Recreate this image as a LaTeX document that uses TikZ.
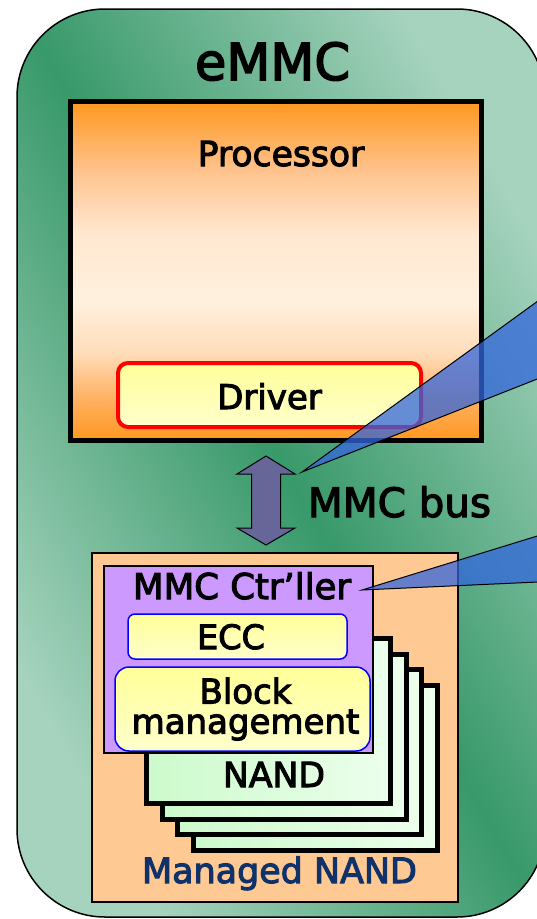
\documentclass[tikz,border=0pt]{standalone}
\usepackage{fontspec}
\setmainfont{DejaVu Sans}[FakeBold=3]
\definecolor{greendark}{HTML}{38996A}
\definecolor{greenlight}{HTML}{A6D3BE}
\definecolor{procorange}{HTML}{FF981F}
\definecolor{procpeach}{HTML}{FFC490}
\definecolor{proclight}{HTML}{FFE8D0}
\definecolor{proccream}{HTML}{FFF0DE}
\definecolor{procpeach2}{HTML}{FFDDBA}
\definecolor{procorange2}{HTML}{FFB060}
\definecolor{yeltop}{HTML}{FFFF99}
\definecolor{yelbot}{HTML}{FFFFCC}
\definecolor{peach}{HTML}{FFC994}
\definecolor{ctlpurple}{HTML}{CC99FF}
\definecolor{nandgreen}{HTML}{CCFACC}
\definecolor{nandlight}{HTML}{ECFFEC}
\definecolor{mnandtext}{HTML}{10326A}
\definecolor{arrowfill}{HTML}{666699}
\definecolor{wedgeblue}{HTML}{3366DD}
\pgfdeclareverticalshading{procshade}{100bp}{%
  color(0bp)=(procorange); color(25bp)=(procorange); color(31bp)=(procorange2);
  color(38bp)=(procpeach2); color(45.5bp)=(proccream); color(55.5bp)=(proclight);
  color(64.5bp)=(procpeach); color(75bp)=(procorange); color(100bp)=(procorange)}
\newcommand\myfs[1]{\fontsize{#1}{#1}\selectfont}
\tikzset{
  lbl/.style={inner sep=0pt, anchor=base},
  box/.style={draw, inner sep=0pt},
  yelbox/.style={box, draw=blue, line width=1.5pt, top color=yeltop, bottom color=yelbot},
  nandbox/.style={box, line width=5pt, minimum width=244pt, minimum height=165pt, left color=nandgreen, right color=nandlight},
  wedge/.style={fill=wedgeblue, fill opacity=0.75},
  wedgeline/.style={draw=black, line width=1pt}
}
\begin{document}
\begin{tikzpicture}[x=1pt,y=-1pt]
\useasboundingbox (0,0) rectangle (537,919);
\clip (0,0) rectangle (537,919);
% outer eMMC package
\node[box, line width=1.5pt, rounded corners=88pt, minimum width=528pt, minimum height=908pt,
      top color=greenlight, bottom color=greenlight, middle color=greendark, shading angle=-60] (emmc) at (281,463) {};
\node[lbl, font=\myfs{51}] (emmclbl) at (272.5,80) {eMMC};
% processor
\node[box, line width=5pt, minimum width=411pt, minimum height=339pt, shading=procshade] (proc) at (276,271) {};
\node[lbl, font=\myfs{34.6}] (proclbl) at (281,166) {Processor};
% driver
\node[box, draw=red, line width=4pt, rounded corners=10pt, minimum width=303pt, minimum height=64pt,
      top color=yeltop, bottom color=yelbot] (drv) at (269.5,395) {};
\node[lbl, font=\myfs{34}] (drvlbl) at (269.5,409) {Driver};
% MMC bus arrow
\draw[fill=arrowfill, line width=1pt, line join=miter]
  (266,456) -- (295,474) -- (280.5,474) -- (280.5,528) -- (295,528) -- (266,545)
  -- (237,528) -- (251.5,528) -- (251.5,474) -- (237,474) -- cycle;
\node[lbl, font=\myfs{40.4}] (buslbl) at (399.5,517) {MMC bus};
% managed NAND
\node[box, line width=1.5pt, minimum width=366pt, minimum height=349pt, fill=peach] (mnand) at (275,727.5) {};
\node[lbl, font=\myfs{34.9}, text=mnandtext] (mnandlbl) at (279.5,883) {Managed NAND};
% NAND stack
\node[nandbox] (nand4) at (315.6,768.1) {};
\node[nandbox] (nand3) at (299.9,752.4) {};
\node[nandbox] (nand2) at (284.2,736.7) {};
\node[nandbox] (nand1) at (268.5,721) {};
\node[lbl, font=\myfs{34.6}] (nandlbl) at (274,787) {NAND};
% MMC controller
\node[box, line width=1.5pt, minimum width=269pt, minimum height=187pt, fill=ctlpurple] (ctl) at (238.5,659.5) {};
\node[lbl, font=\myfs{35.5}] (ctllbl) at (242,599) {MMC Ctr’ller};
\node[yelbox, rounded corners=7pt, minimum width=219pt, minimum height=45pt] (ecc) at (237.5,636.5) {};
\node[lbl, font=\myfs{33.5}] (ecclbl) at (231,649) {ECC};
\node[yelbox, rounded corners=14pt, minimum width=255pt, minimum height=84pt] (blk) at (242.5,709) {};
\node[inner sep=0pt, align=center, font=\fontsize{34}{30}\selectfont] (blklbl) at (245.5,709.1) {Block\\management};
% callout wedges
\coordinate (tipbus) at (302,472);
\coordinate (w1a) at (560,285);
\coordinate (w1b) at (560,370);
\coordinate (tipctl) at (362,590);
\coordinate (w2a) at (560,529);
\coordinate (w2b) at (560,581);
\fill[wedge] (tipbus) -- (w1a) -- (w1b) -- cycle;
\draw[wedgeline] (w1a) -- (tipbus) -- (w1b);
\fill[wedge] (tipctl) -- (w2a) -- (w2b) -- cycle;
\draw[wedgeline] (w2a) -- (tipctl) -- (w2b);
\end{tikzpicture}
\end{document}
